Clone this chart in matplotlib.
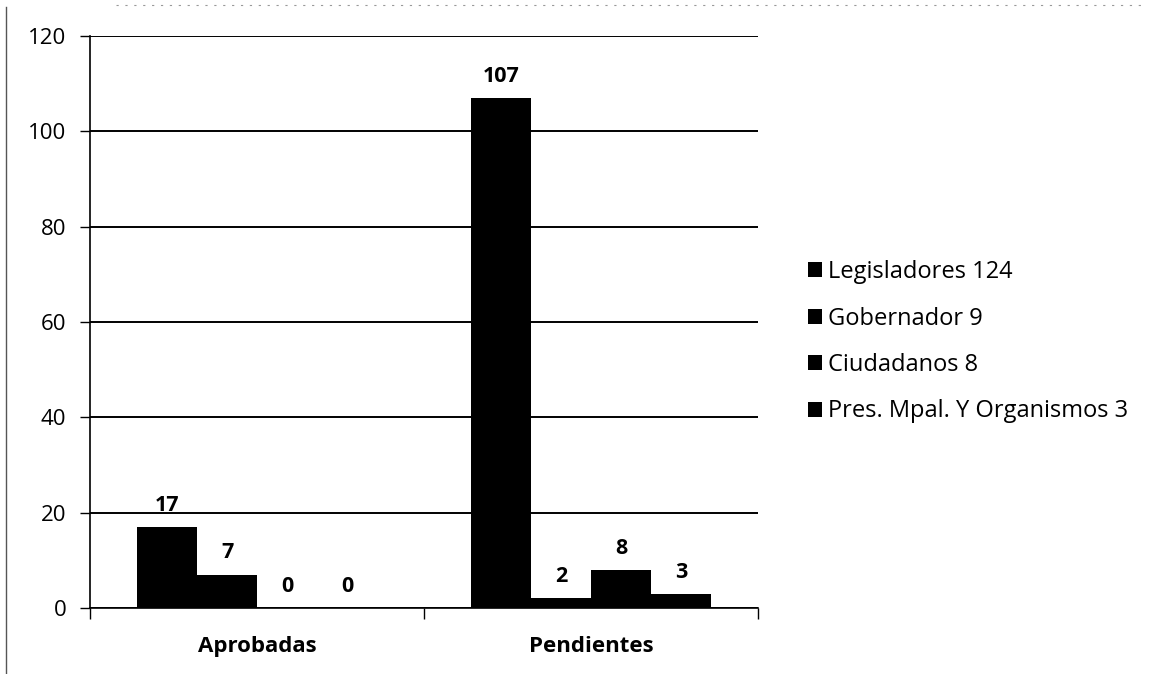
import matplotlib.pyplot as plt
import numpy as np
from matplotlib.lines import Line2D

categories = ['Aprobadas', 'Pendientes']
series_names = ['Legisladores 124', 'Gobernador 9', 'Ciudadanos 8', 'Pres. Mpal. Y Organismos 3']
values = [
    [17, 107],  # Legisladores
    [7, 2],     # Gobernador
    [0, 8],     # Ciudadanos
    [0, 3],     # Pres. Mpal. Y Organismos
]

plt.rcParams['font.family'] = ['Open Sans', 'DejaVu Sans']

fig = plt.figure(figsize=(11.59, 6.74), dpi=100)
ax = fig.add_axes([0.0777, 0.098, 0.5765, 0.8486])

x = np.arange(len(categories))
width = 0.18
for i, vals in enumerate(values):
    pos = x + (i - 1.5) * width
    bars = ax.bar(pos, vals, width, color='black', label=series_names[i], zorder=3)
    for bar, v in zip(bars, vals):
        ax.annotate(f'{v}', (bar.get_x() + bar.get_width() / 2, v),
                    xytext=(0, 8), textcoords='offset points',
                    ha='center', va='bottom', fontsize=15.5, fontweight='bold')

ax.set_xlim(-0.5, 1.5)
ax.set_ylim(0, 120)
ax.set_yticks(range(0, 121, 20))
ax.yaxis.grid(True, color='black', linewidth=1.4, zorder=0)
ax.tick_params(axis='y', length=7, width=1, labelsize=16, pad=10)

ax.set_xticks([-0.5, 0.5, 1.5])
ax.set_xticklabels([])
ax.set_xticks(x, minor=True)
ax.set_xticklabels(categories, minor=True, fontsize=16, fontweight='bold')
ax.tick_params(axis='x', which='major', length=8, width=1)
ax.tick_params(axis='x', which='minor', length=0, pad=20)

for s in ['top', 'right']:
    ax.spines[s].set_visible(False)
ax.spines['left'].set_linewidth(1.2)
ax.spines['bottom'].set_linewidth(1.2)

fig.legend(loc='center left', bbox_to_anchor=(0.679, 0.493), frameon=False,
           fontsize=17, handlelength=0.6, handleheight=0.6, handletextpad=0.25,
           labelspacing=0.95)

# scan frame edges
fig.add_artist(Line2D([0.005, 0.005], [0.0, 0.99], color='#555555', linewidth=1))
fig.add_artist(Line2D([0.1, 0.99], [0.993, 0.993], color='#999999', linewidth=0.8, linestyle=(0, (2, 6))))

fig.savefig('out.png', dpi=100)
